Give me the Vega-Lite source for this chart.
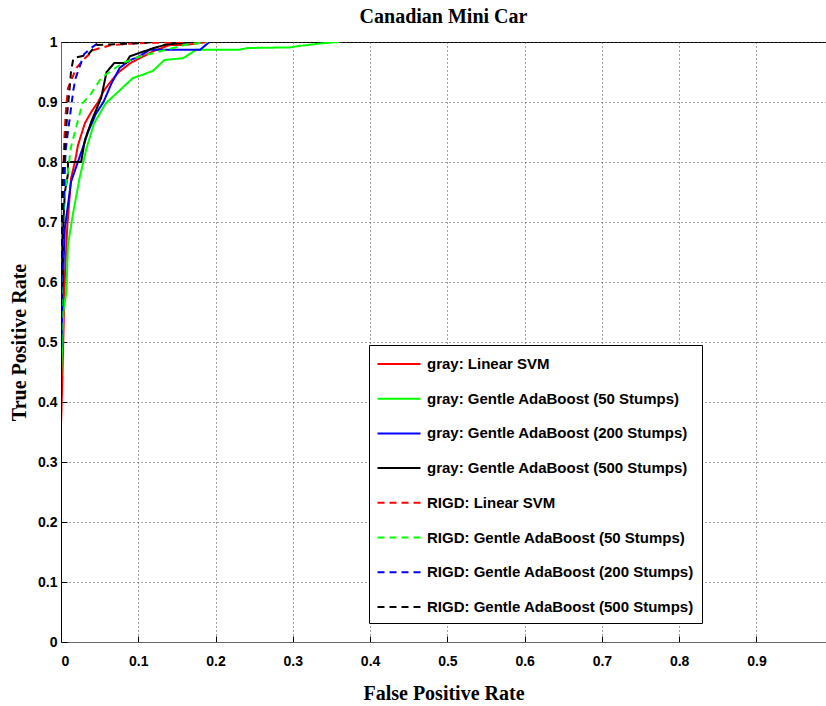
{
"$schema": "https://vega.github.io/schema/vega-lite/v6.json",
"width": 765, "height": 600,
"autosize": {"type": "none"},
"padding": {"left": 61, "top": 42, "right": 0, "bottom": 64},
"background": "white",
"title": {"text": "Canadian Mini Car", "font": "Liberation Serif", "fontSize": 20, "fontWeight": "bold", "anchor": "middle", "offset": 8, "color": "black"},
"config": {
  "view": {"stroke": "#000", "strokeWidth": 1},
  "axis": {"labelFont": "Liberation Sans", "labelFontWeight": "bold", "labelFontSize": 14, "labelColor": "black",
           "titleFont": "Liberation Serif", "titleFontSize": 20, "titleFontWeight": "bold", "titleColor": "black",
           "domainColor": "#666", "tickColor": "#000", "tickSize": -6, "grid": true, "gridColor": "#444", "gridDash": [1, 3], "gridWidth": 1},
  "legend": {"fillColor": "white", "strokeColor": "black", "padding": 8, "rowPadding": 15.7, "symbolType": "M-2.15,0H2.15", "symbolSize": 400, "symbolStrokeWidth": 2, "symbolFillColor": "transparent", "symbolOffset": 11,
             "labelFont": "Liberation Sans", "labelFontWeight": "bold", "labelFontSize": 15, "labelColor": "black", "labelOffset": 17, "labelLimit": 400}
},
"data": {"values": [
{"s":"gray: Linear SVM","fpr":0,"tpr":0},{"s":"gray: Linear SVM","fpr":0,"tpr":0.36},{"s":"gray: Linear SVM","fpr":0.002,"tpr":0.45},{"s":"gray: Linear SVM","fpr":0.004,"tpr":0.56},{"s":"gray: Linear SVM","fpr":0.005,"tpr":0.607},{"s":"gray: Linear SVM","fpr":0.008,"tpr":0.69},{"s":"gray: Linear SVM","fpr":0.013,"tpr":0.773},{"s":"gray: Linear SVM","fpr":0.018,"tpr":0.8},{"s":"gray: Linear SVM","fpr":0.022,"tpr":0.828},{"s":"gray: Linear SVM","fpr":0.031,"tpr":0.865},{"s":"gray: Linear SVM","fpr":0.04,"tpr":0.885},{"s":"gray: Linear SVM","fpr":0.048,"tpr":0.9},{"s":"gray: Linear SVM","fpr":0.056,"tpr":0.92},{"s":"gray: Linear SVM","fpr":0.065,"tpr":0.935},{"s":"gray: Linear SVM","fpr":0.075,"tpr":0.95},{"s":"gray: Linear SVM","fpr":0.09,"tpr":0.965},{"s":"gray: Linear SVM","fpr":0.102,"tpr":0.973},{"s":"gray: Linear SVM","fpr":0.12,"tpr":0.985},{"s":"gray: Linear SVM","fpr":0.141,"tpr":0.995},{"s":"gray: Linear SVM","fpr":0.16,"tpr":0.995},{"s":"gray: Linear SVM","fpr":0.19,"tpr":1.0},
{"s":"gray: Gentle AdaBoost (50 Stumps)","fpr":0,"tpr":0},{"s":"gray: Gentle AdaBoost (50 Stumps)","fpr":0,"tpr":0.44},{"s":"gray: Gentle AdaBoost (50 Stumps)","fpr":0.003,"tpr":0.55},{"s":"gray: Gentle AdaBoost (50 Stumps)","fpr":0.007,"tpr":0.584},{"s":"gray: Gentle AdaBoost (50 Stumps)","fpr":0.009,"tpr":0.662},{"s":"gray: Gentle AdaBoost (50 Stumps)","fpr":0.016,"tpr":0.717},{"s":"gray: Gentle AdaBoost (50 Stumps)","fpr":0.024,"tpr":0.773},{"s":"gray: Gentle AdaBoost (50 Stumps)","fpr":0.033,"tpr":0.823},{"s":"gray: Gentle AdaBoost (50 Stumps)","fpr":0.043,"tpr":0.865},{"s":"gray: Gentle AdaBoost (50 Stumps)","fpr":0.058,"tpr":0.898},{"s":"gray: Gentle AdaBoost (50 Stumps)","fpr":0.074,"tpr":0.917},{"s":"gray: Gentle AdaBoost (50 Stumps)","fpr":0.093,"tpr":0.94},{"s":"gray: Gentle AdaBoost (50 Stumps)","fpr":0.105,"tpr":0.945},{"s":"gray: Gentle AdaBoost (50 Stumps)","fpr":0.119,"tpr":0.952},{"s":"gray: Gentle AdaBoost (50 Stumps)","fpr":0.134,"tpr":0.97},{"s":"gray: Gentle AdaBoost (50 Stumps)","fpr":0.158,"tpr":0.973},{"s":"gray: Gentle AdaBoost (50 Stumps)","fpr":0.175,"tpr":0.987},{"s":"gray: Gentle AdaBoost (50 Stumps)","fpr":0.23,"tpr":0.987},{"s":"gray: Gentle AdaBoost (50 Stumps)","fpr":0.242,"tpr":0.99},{"s":"gray: Gentle AdaBoost (50 Stumps)","fpr":0.296,"tpr":0.991},{"s":"gray: Gentle AdaBoost (50 Stumps)","fpr":0.306,"tpr":0.993},{"s":"gray: Gentle AdaBoost (50 Stumps)","fpr":0.339,"tpr":0.998},{"s":"gray: Gentle AdaBoost (50 Stumps)","fpr":0.36,"tpr":1.0},
{"s":"gray: Gentle AdaBoost (200 Stumps)","fpr":0,"tpr":0},{"s":"gray: Gentle AdaBoost (200 Stumps)","fpr":0,"tpr":0.48},{"s":"gray: Gentle AdaBoost (200 Stumps)","fpr":0.003,"tpr":0.62},{"s":"gray: Gentle AdaBoost (200 Stumps)","fpr":0.005,"tpr":0.69},{"s":"gray: Gentle AdaBoost (200 Stumps)","fpr":0.013,"tpr":0.767},{"s":"gray: Gentle AdaBoost (200 Stumps)","fpr":0.028,"tpr":0.823},{"s":"gray: Gentle AdaBoost (200 Stumps)","fpr":0.035,"tpr":0.85},{"s":"gray: Gentle AdaBoost (200 Stumps)","fpr":0.045,"tpr":0.88},{"s":"gray: Gentle AdaBoost (200 Stumps)","fpr":0.055,"tpr":0.9},{"s":"gray: Gentle AdaBoost (200 Stumps)","fpr":0.065,"tpr":0.93},{"s":"gray: Gentle AdaBoost (200 Stumps)","fpr":0.076,"tpr":0.957},{"s":"gray: Gentle AdaBoost (200 Stumps)","fpr":0.09,"tpr":0.97},{"s":"gray: Gentle AdaBoost (200 Stumps)","fpr":0.1,"tpr":0.975},{"s":"gray: Gentle AdaBoost (200 Stumps)","fpr":0.115,"tpr":0.987},{"s":"gray: Gentle AdaBoost (200 Stumps)","fpr":0.18,"tpr":0.987},{"s":"gray: Gentle AdaBoost (200 Stumps)","fpr":0.192,"tpr":1.0},
{"s":"gray: Gentle AdaBoost (500 Stumps)","fpr":0,"tpr":0},{"s":"gray: Gentle AdaBoost (500 Stumps)","fpr":0,"tpr":0.55},{"s":"gray: Gentle AdaBoost (500 Stumps)","fpr":0.003,"tpr":0.698},{"s":"gray: Gentle AdaBoost (500 Stumps)","fpr":0.005,"tpr":0.75},{"s":"gray: Gentle AdaBoost (500 Stumps)","fpr":0.009,"tpr":0.78},{"s":"gray: Gentle AdaBoost (500 Stumps)","fpr":0.009,"tpr":0.8},{"s":"gray: Gentle AdaBoost (500 Stumps)","fpr":0.026,"tpr":0.8},{"s":"gray: Gentle AdaBoost (500 Stumps)","fpr":0.031,"tpr":0.837},{"s":"gray: Gentle AdaBoost (500 Stumps)","fpr":0.04,"tpr":0.87},{"s":"gray: Gentle AdaBoost (500 Stumps)","fpr":0.052,"tpr":0.907},{"s":"gray: Gentle AdaBoost (500 Stumps)","fpr":0.059,"tpr":0.95},{"s":"gray: Gentle AdaBoost (500 Stumps)","fpr":0.069,"tpr":0.965},{"s":"gray: Gentle AdaBoost (500 Stumps)","fpr":0.084,"tpr":0.965},{"s":"gray: Gentle AdaBoost (500 Stumps)","fpr":0.089,"tpr":0.976},{"s":"gray: Gentle AdaBoost (500 Stumps)","fpr":0.102,"tpr":0.982},{"s":"gray: Gentle AdaBoost (500 Stumps)","fpr":0.12,"tpr":0.99},{"s":"gray: Gentle AdaBoost (500 Stumps)","fpr":0.137,"tpr":0.996},{"s":"gray: Gentle AdaBoost (500 Stumps)","fpr":0.17,"tpr":1.0},
{"s":"RIGD: Linear SVM","fpr":0,"tpr":0},{"s":"RIGD: Linear SVM","fpr":0,"tpr":0.6},{"s":"RIGD: Linear SVM","fpr":0.002,"tpr":0.75},{"s":"RIGD: Linear SVM","fpr":0.004,"tpr":0.83},{"s":"RIGD: Linear SVM","fpr":0.006,"tpr":0.88},{"s":"RIGD: Linear SVM","fpr":0.009,"tpr":0.923},{"s":"RIGD: Linear SVM","fpr":0.02,"tpr":0.957},{"s":"RIGD: Linear SVM","fpr":0.031,"tpr":0.973},{"s":"RIGD: Linear SVM","fpr":0.043,"tpr":0.987},{"s":"RIGD: Linear SVM","fpr":0.065,"tpr":0.995},{"s":"RIGD: Linear SVM","fpr":0.1,"tpr":0.998},{"s":"RIGD: Linear SVM","fpr":0.16,"tpr":1.0},
{"s":"RIGD: Gentle AdaBoost (50 Stumps)","fpr":0,"tpr":0},{"s":"RIGD: Gentle AdaBoost (50 Stumps)","fpr":0,"tpr":0.45},{"s":"RIGD: Gentle AdaBoost (50 Stumps)","fpr":0.002,"tpr":0.69},{"s":"RIGD: Gentle AdaBoost (50 Stumps)","fpr":0.005,"tpr":0.745},{"s":"RIGD: Gentle AdaBoost (50 Stumps)","fpr":0.013,"tpr":0.825},{"s":"RIGD: Gentle AdaBoost (50 Stumps)","fpr":0.02,"tpr":0.86},{"s":"RIGD: Gentle AdaBoost (50 Stumps)","fpr":0.028,"tpr":0.898},{"s":"RIGD: Gentle AdaBoost (50 Stumps)","fpr":0.039,"tpr":0.914},{"s":"RIGD: Gentle AdaBoost (50 Stumps)","fpr":0.052,"tpr":0.94},{"s":"RIGD: Gentle AdaBoost (50 Stumps)","fpr":0.063,"tpr":0.95},{"s":"RIGD: Gentle AdaBoost (50 Stumps)","fpr":0.08,"tpr":0.965},{"s":"RIGD: Gentle AdaBoost (50 Stumps)","fpr":0.1,"tpr":0.975},{"s":"RIGD: Gentle AdaBoost (50 Stumps)","fpr":0.13,"tpr":0.985},{"s":"RIGD: Gentle AdaBoost (50 Stumps)","fpr":0.16,"tpr":0.995},{"s":"RIGD: Gentle AdaBoost (50 Stumps)","fpr":0.19,"tpr":1.0},
{"s":"RIGD: Gentle AdaBoost (200 Stumps)","fpr":0,"tpr":0},{"s":"RIGD: Gentle AdaBoost (200 Stumps)","fpr":0,"tpr":0.55},{"s":"RIGD: Gentle AdaBoost (200 Stumps)","fpr":0.003,"tpr":0.72},{"s":"RIGD: Gentle AdaBoost (200 Stumps)","fpr":0.006,"tpr":0.82},{"s":"RIGD: Gentle AdaBoost (200 Stumps)","fpr":0.012,"tpr":0.88},{"s":"RIGD: Gentle AdaBoost (200 Stumps)","fpr":0.016,"tpr":0.92},{"s":"RIGD: Gentle AdaBoost (200 Stumps)","fpr":0.019,"tpr":0.94},{"s":"RIGD: Gentle AdaBoost (200 Stumps)","fpr":0.03,"tpr":0.98},{"s":"RIGD: Gentle AdaBoost (200 Stumps)","fpr":0.039,"tpr":0.99},{"s":"RIGD: Gentle AdaBoost (200 Stumps)","fpr":0.05,"tpr":1.0},
{"s":"RIGD: Gentle AdaBoost (500 Stumps)","fpr":0,"tpr":0},{"s":"RIGD: Gentle AdaBoost (500 Stumps)","fpr":0,"tpr":0.6},{"s":"RIGD: Gentle AdaBoost (500 Stumps)","fpr":0.002,"tpr":0.78},{"s":"RIGD: Gentle AdaBoost (500 Stumps)","fpr":0.005,"tpr":0.82},{"s":"RIGD: Gentle AdaBoost (500 Stumps)","fpr":0.008,"tpr":0.88},{"s":"RIGD: Gentle AdaBoost (500 Stumps)","fpr":0.011,"tpr":0.92},{"s":"RIGD: Gentle AdaBoost (500 Stumps)","fpr":0.013,"tpr":0.951},{"s":"RIGD: Gentle AdaBoost (500 Stumps)","fpr":0.016,"tpr":0.973},{"s":"RIGD: Gentle AdaBoost (500 Stumps)","fpr":0.035,"tpr":0.979},{"s":"RIGD: Gentle AdaBoost (500 Stumps)","fpr":0.046,"tpr":0.995},{"s":"RIGD: Gentle AdaBoost (500 Stumps)","fpr":0.1,"tpr":0.998},{"s":"RIGD: Gentle AdaBoost (500 Stumps)","fpr":0.12,"tpr":1.0}
]},
"mark": {"type": "line", "strokeWidth": 2, "clip": true},
"encoding": {
  "x": {"field": "fpr", "type": "quantitative", "scale": {"domain": [0, 0.99], "nice": false, "zero": false},
        "axis": {"title": "False Positive Rate", "values": [0, 0.1, 0.2, 0.3, 0.4, 0.5, 0.6, 0.7, 0.8, 0.9], "format": "~g", "labelPadding": 18, "titlePadding": 15}},
  "y": {"field": "tpr", "type": "quantitative", "scale": {"domain": [0, 1], "nice": false},
        "axis": {"title": "True Positive Rate", "values": [0, 0.1, 0.2, 0.3, 0.4, 0.5, 0.6, 0.7, 0.8, 0.9, 1], "format": "~g", "labelPadding": 10, "titlePadding": 8}},
  "color": {"field": "s", "type": "nominal",
    "scale": {"domain": ["gray: Linear SVM", "gray: Gentle AdaBoost (50 Stumps)", "gray: Gentle AdaBoost (200 Stumps)", "gray: Gentle AdaBoost (500 Stumps)", "RIGD: Linear SVM", "RIGD: Gentle AdaBoost (50 Stumps)", "RIGD: Gentle AdaBoost (200 Stumps)", "RIGD: Gentle AdaBoost (500 Stumps)"],
              "range": ["#ff0000", "#00ff00", "#0000ff", "#000000", "#ff0000", "#00ff00", "#0000ff", "#000000"]},
    "legend": {"title": null, "orient": "none", "legendX": 308, "legendY": 303}},
  "strokeDash": {"field": "s", "type": "nominal",
    "scale": {"domain": ["gray: Linear SVM", "gray: Gentle AdaBoost (50 Stumps)", "gray: Gentle AdaBoost (200 Stumps)", "gray: Gentle AdaBoost (500 Stumps)", "RIGD: Linear SVM", "RIGD: Gentle AdaBoost (50 Stumps)", "RIGD: Gentle AdaBoost (200 Stumps)", "RIGD: Gentle AdaBoost (500 Stumps)"],
              "range": [[1, 0], [1, 0], [1, 0], [1, 0], [7, 5], [7, 5], [7, 5], [7, 5]]},
    "legend": {"title": null, "orient": "none", "legendX": 308, "legendY": 303}},
  "order": [{"field": "fpr", "type": "quantitative"}, {"field": "tpr", "type": "quantitative"}]
}
}
